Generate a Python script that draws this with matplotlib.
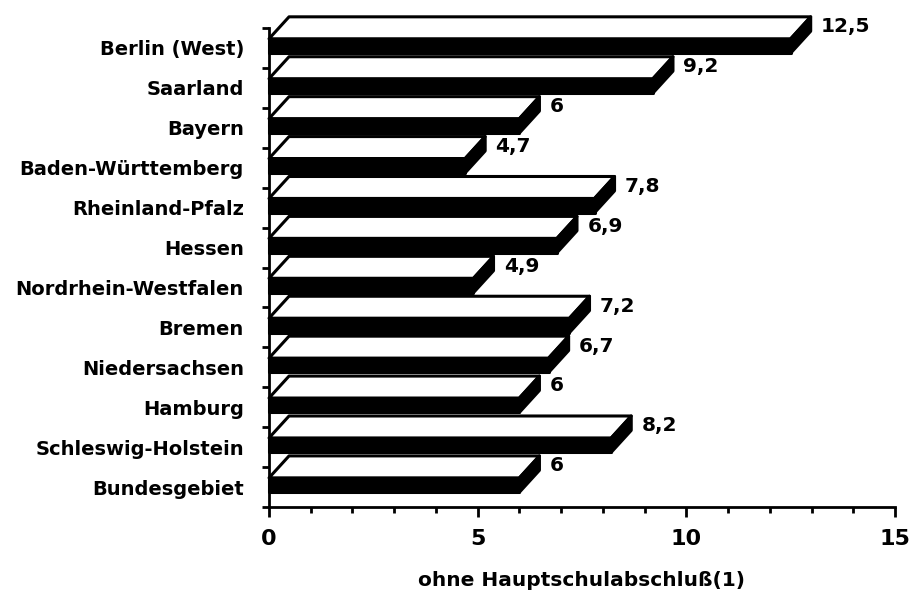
import matplotlib
matplotlib.use("Agg")
import matplotlib.pyplot as plt
from matplotlib.patches import Polygon
import numpy as np

categories = ["Berlin (West)", "Saarland", "Bayern", "Baden-Württemberg",
              "Rheinland-Pfalz", "Hessen", "Nordrhein-Westfalen", "Bremen",
              "Niedersachsen", "Hamburg", "Schleswig-Holstein", "Bundesgebiet"]
values = [12.5, 9.2, 6, 4.7, 7.8, 6.9, 4.9, 7.2, 6.7, 6, 8.2, 6]
xticks = [0, 5, 10, 15]
xlabel = "ohne Hauptschulabschluß(1)"

plt.rcParams['font.family'] = ['DejaVu Sans']
fig = plt.figure(figsize=(9.12, 5.97), dpi=100)
ax = fig.add_axes([269/912, 1-507/597, (895-269)/912, (507-28)/597])

n = len(categories)
ax.set_xlim(0, 15)
ax.set_ylim(-0.5, n - 0.5)

h = 0.36
dx = 0.48
dy = 0.55
off = 0.05
lw = 2.2
for i, (cat, v) in enumerate(zip(categories, values)):
    yc = n - 1 - i + off
    yb = yc - h/2
    yt = yc + h/2
    front = Polygon([(0, yb), (v, yb), (v, yt), (0, yt)], closed=True,
                    facecolor="black", edgecolor="black", lw=lw, clip_on=False,
                    zorder=3, joinstyle="round")
    top = Polygon([(0, yt), (v, yt), (v+dx, yt+dy), (dx, yt+dy)], closed=True,
                  facecolor="white", edgecolor="black", lw=lw, clip_on=False,
                  zorder=3, joinstyle="round")
    side = Polygon([(v, yb), (v, yt), (v+dx, yt+dy), (v+dx, yb+dy)], closed=True,
                   facecolor="black", edgecolor="black", lw=lw, clip_on=False,
                   zorder=4, joinstyle="round")
    ax.add_patch(front)
    ax.add_patch(top)
    ax.add_patch(side)
    lab = (f"{v:g}").replace(".", ",")
    ax.text(v + dx + 0.25, yt + dy*0.55, lab, ha="left", va="center",
            fontsize=14.5, fontweight="bold", clip_on=False)

for s in ["top", "right"]:
    ax.spines[s].set_visible(False)
ax.spines["left"].set_linewidth(2)
ax.spines["bottom"].set_linewidth(2)

ax.set_xticks(xticks)
ax.set_xticklabels([str(t) for t in xticks], fontsize=16, fontweight="bold")
ax.set_xticks(np.arange(0, 16, 1), minor=True)
ax.tick_params(axis="x", which="major", length=7, width=2, pad=9)
ax.tick_params(axis="x", which="minor", length=4, width=2)

ax.set_yticks(np.arange(-0.5, n, 1))
ax.set_yticklabels([])
ax.tick_params(axis="y", which="major", length=5, width=2)
ax.set_yticks([n - 1 - i for i in range(n)], minor=True)
ax.set_yticklabels(categories, minor=True, fontsize=14, fontweight="bold")
ax.tick_params(axis="y", which="minor", length=0, pad=18)

ax.set_xlabel(xlabel, fontsize=14.5, fontweight="bold", labelpad=16)

fig.savefig("out.png", dpi=100)
